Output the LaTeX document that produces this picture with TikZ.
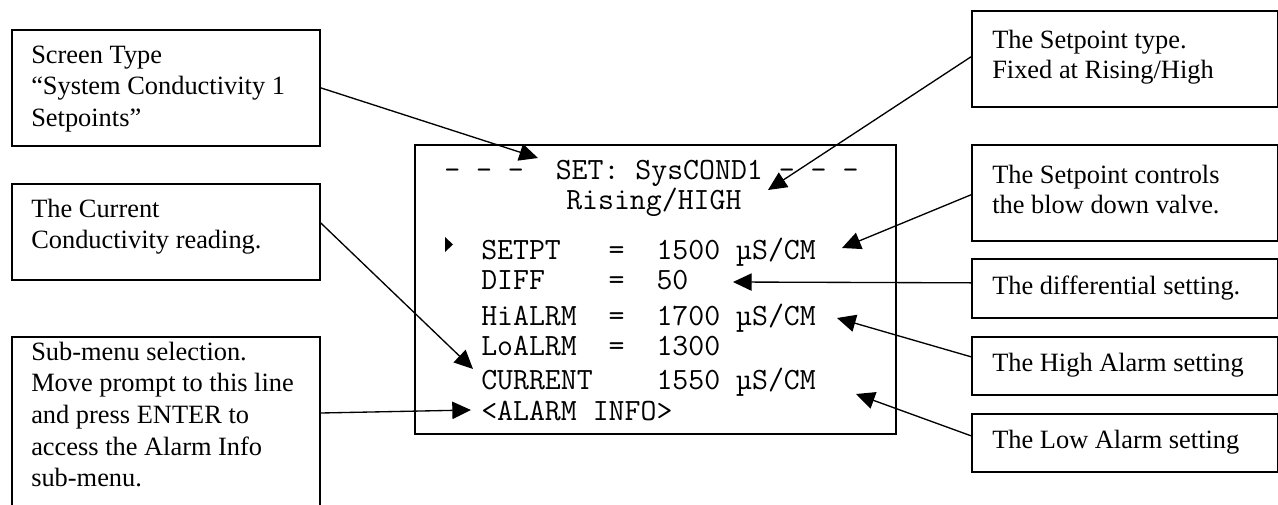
\documentclass[tikz,border=0pt]{standalone}
\usepackage{fontspec}
\setmainfont{Liberation Serif}
\newfontfamily\scrfont{Latin Modern Mono}
\usetikzlibrary{arrows.meta}
\frenchspacing
\tikzset{
  box/.style={draw=black, line width=1.2pt, rectangle, inner sep=0pt, anchor=north west},
  lbl/.style={anchor=base west, inner sep=0pt, font=\fontsize{19.8}{23.8}\selectfont},
  rlbl/.style={anchor=base west, inner sep=0pt, font=\fontsize{19.8}{22.9}\selectfont},
  scr/.style={anchor=base west, inner sep=0pt, font=\scrfont\fontsize{23.2}{26}\selectfont},
  arr/.style={line width=1pt, -{Triangle[length=14pt,width=13pt]}}
}
\begin{document}
\begin{tikzpicture}[x=0.75pt,y=-0.75pt]
\useasboundingbox (0,0) rectangle (1278,504);
% boxes
\node[box, minimum width=231pt, minimum height=87pt] (st) at (11,29) {};
\node[box, minimum width=231pt, minimum height=72pt] (cc) at (11,183) {};
\node[box, minimum width=231pt, minimum height=130.5pt] (sm) at (11,336) {};
\node[box, minimum width=360.75pt, minimum height=216.75pt] (scr) at (414,144) {};
\node[box, minimum width=229.5pt, minimum height=72pt] (spt) at (971,10) {};
\node[box, minimum width=229.5pt, minimum height=72pt] (spc) at (971,144) {};
\node[box, minimum width=229.5pt, minimum height=44.25pt] (dif) at (971,258) {};
\node[box, minimum width=229.5pt, minimum height=43.5pt] (hia) at (971,336) {};
\node[box, minimum width=229.5pt, minimum height=43.5pt] (loa) at (971,413) {};
% box texts
\node[lbl] (stT) at (31,63) {\begin{tabular}[t]{@{}l@{}}Screen Type\\“System Conductivity 1\\Setpoints”\end{tabular}};
\node[lbl] (ccT) at (31,217) {\begin{tabular}[t]{@{}l@{}}The Current\\Conductivity reading.\end{tabular}};
\node[lbl] (smT) at (31,360) {\begin{tabular}[t]{@{}l@{}}Sub-menu selection.\\Move prompt to this line\\and press ENTER to\\access the Alarm Info\\sub-menu.\end{tabular}};
\node[rlbl] (sptT) at (992,48) {\begin{tabular}[t]{@{}l@{}}The Setpoint type.\\Fixed at Rising/High\end{tabular}};
\node[rlbl] (spcT) at (992,183) {\begin{tabular}[t]{@{}l@{}}The Setpoint controls\\the blow down valve.\end{tabular}};
\node[rlbl] (difT) at (992,294) {The differential setting.};
\node[rlbl] (hiaT) at (992,371) {The High Alarm setting};
\node[rlbl] (loaT) at (992,448) {The Low Alarm setting};
% screen texts
\node[scr] (l1) at (444,179) {-~-~-~~SET:~SysCOND1~-~-~-};
\node[scr] (l2) at (566,209) {Rising/HIGH};
\node[scr] (l3) at (481,259) {SETPT~~~=~~1500~µS/CM};
\node[scr] (l4) at (481,289) {DIFF~~~~=~~50};
\node[scr] (l5) at (481,325) {HiALRM~~=~~1700~µS/CM};
\node[scr] (l6) at (481,355) {LoALRM~~=~~1300};
\node[scr] (l7) at (481,389) {CURRENT~~~~1550~µS/CM};
\node[scr] (l8) at (481,420) {<ALARM~INFO>};
\fill (445,237) -- (453,244.5) -- (445,252) -- cycle;
% arrow tips
\coordinate (tST) at (538,158);
\coordinate (tCC) at (473,369);
\coordinate (tSM) at (471,410);
\coordinate (tSPT) at (768,190);
\coordinate (tSPC) at (842,248);
\coordinate (tDIF) at (733,282);
\coordinate (tHIA) at (837,318);
\coordinate (tLOA) at (856,394);
% connectors
\draw[arr] (st.east) -- (tST);
\draw[arr] ([yshift=6.75pt]cc.east) -- (tCC);
\draw[arr] ([yshift=-57.75pt]sm.north east) -- (tSM);
\draw[arr] ([yshift=1.5pt]spt.west) -- (tSPT);
\draw[arr] ([yshift=-1.5pt]spc.west) -- (tSPC);
\draw[arr] ([yshift=4.1pt]dif.west) -- (tDIF);
\draw[arr] ([yshift=6.75pt]hia.west) -- (tHIA);
\draw[arr] ([yshift=5.25pt]loa.west) -- (tLOA);
\end{tikzpicture}
\end{document}
